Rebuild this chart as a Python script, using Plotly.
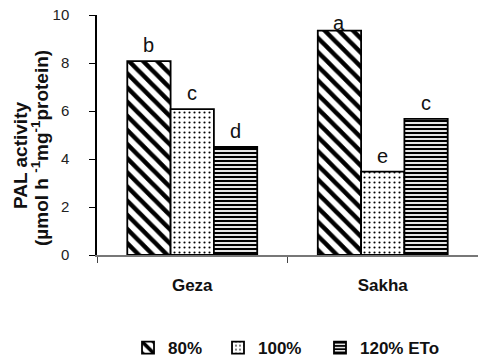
import plotly.graph_objects as go

categories = ["Geza", "Sakha"]
series_names = ["80%", "100%", "120% ETo"]
values_80 = [8.08, 9.35]
values_100 = [6.08, 3.47]
values_120 = [4.50, 5.67]
letters_80 = ["b", "a"]
letters_100 = ["c", "e"]
letters_120 = ["d", "c"]
y_ticks = [0, 2, 4, 6, 8, 10]

W, H = 478, 358
ML, MR, MT, MB = 97, 0, 15, 103
YMAX = 10
plot_h = H - MT - MB
px_per_unit = plot_h / YMAX

FONT = "Arial, Liberation Sans, sans-serif"
patterns = [
    dict(shape="\\", size=10, solidity=0.45, fgcolor="black", bgcolor="white", fgopacity=1),
    dict(shape=".", size=5, solidity=0.14, fgcolor="black", bgcolor="white", fgopacity=1),
    dict(shape="-", size=4, solidity=0.55, fgcolor="black", bgcolor="white", fgopacity=1),
]
legend_ids = ["legend", "legend2", "legend3"]
legend_x = [0.0814, 0.3176, 0.5853]

fig = go.Figure()
all_vals = [values_80, values_100, values_120]
all_letters = [letters_80, letters_100, letters_120]
for i, (name, vals) in enumerate(zip(series_names, all_vals)):
    fig.add_trace(go.Bar(
        name="<b>%s</b>" % name, x=categories, y=vals,
        marker=dict(color="white", line=dict(color="black", width=1.8),
                    pattern=patterns[i]),
        offsetgroup=str(i), legend=legend_ids[i],
    ))

n = len(series_names)
bargap = 0.318
group_w = 1 - bargap
annotations = []
for i in range(n):
    for j, cat in enumerate(categories):
        v = all_vals[i][j]
        xoff = -group_w / 2 + group_w / n * (i + 0.5)
        space = (YMAX - v) * px_per_unit
        ys = 3 if space > 30 else -5
        annotations.append(dict(
            x=j + xoff, y=v, xref="x", yref="y", text=all_letters[i][j],
            showarrow=False, yanchor="bottom", yshift=ys,
            font=dict(family=FONT, size=20, color="#111"),
        ))

annotations.append(dict(
    x=-0.1995, y=0.4167, xref="paper", yref="paper", text="<b>PAL activity</b>",
    textangle=-90, showarrow=False, xanchor="center", yanchor="middle",
    font=dict(family=FONT, size=19, color="#111"),
))
annotations.append(dict(
    x=-0.1496, y=0.446, xref="paper", yref="paper",
    text="<b>(µmol h <sup>-1</sup>mg<sup>-1</sup>protein)</b>",
    textangle=-90, showarrow=False, xanchor="center", yanchor="middle",
    font=dict(family=FONT, size=19, color="#111"),
))

legend_common = dict(orientation="h", xanchor="left", y=-0.3875, yanchor="middle",
                     font=dict(family=FONT, size=17, color="#111"), itemwidth=30)

fig.update_layout(
    width=W, height=H,
    margin=dict(l=ML, r=MR, t=MT, b=MB, pad=0, autoexpand=False),
    plot_bgcolor="white", paper_bgcolor="white",
    barmode="group", bargap=bargap, bargroupgap=0,
    showlegend=True,
    annotations=annotations,
    font=dict(family=FONT, color="#111"),
)
for lid, lx in zip(legend_ids, legend_x):
    fig.update_layout({lid: dict(legend_common, x=lx)})

fig.update_xaxes(
    type="category", range=[-0.5, 1.5], showline=True, linecolor="#777",
    linewidth=1.5, ticks="outside", tickson="boundaries", ticklen=6,
    tickcolor="#444", tickwidth=1, showgrid=False, zeroline=False,
    tickfont=dict(family=FONT, size=17, color="#111"),
    ticklabelstandoff=14,
    tickvals=categories, ticktext=["<b>%s</b>" % c for c in categories],
)
fig.update_yaxes(
    range=[0, YMAX], tickvals=y_ticks, showline=True, linecolor="black",
    linewidth=1.5, ticks="outside", ticklen=6, tickcolor="black",
    showgrid=False, zeroline=False,
    tickfont=dict(family=FONT, size=15, color="#222"),
    ticklabelstandoff=17,
)
fig.write_html("out.html", config={"displayModeBar": False},
               post_script="document.body.style.margin='0';document.body.style.overflow='hidden';")
